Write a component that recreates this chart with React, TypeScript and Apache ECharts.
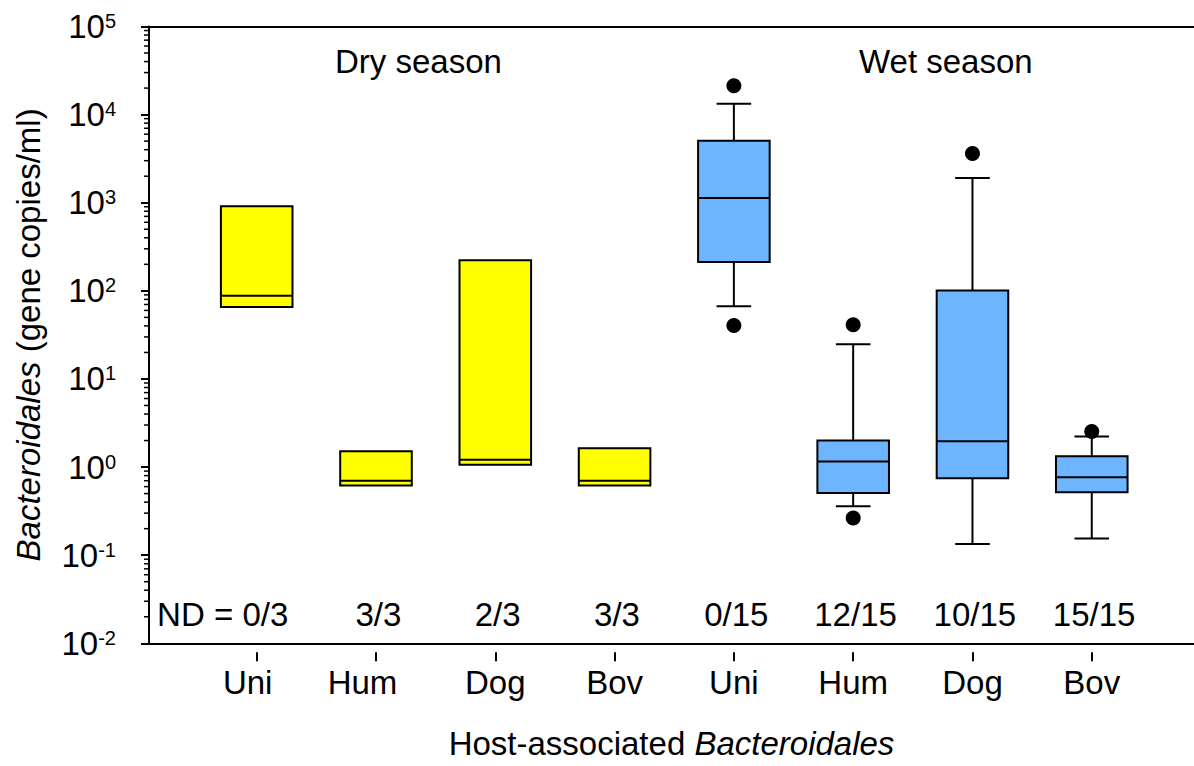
import React, { useEffect, useRef } from "react";
import * as echarts from "echarts";

// ---- data ----
const categories = ["Uni", "Hum", "Dog", "Bov", "Uni", "Hum", "Dog", "Bov"];
const positions = [1, 2, 3, 4, 5, 6, 7, 8];
const seasons = ["Dry", "Dry", "Dry", "Dry", "Wet", "Wet", "Wet", "Wet"];
const q1 = [65.5, 0.616, 1.06, 0.616, 212, 0.509, 0.746, 0.517];
const median = [88, 0.7, 1.21, 0.7, 1135, 1.155, 1.96, 0.766];
const q3 = [912, 1.51, 222, 1.64, 5040, 2.0, 101, 1.33];
const whiskerLow: (number | null)[] = [null, null, null, null, 67, 0.359, 0.134, 0.155];
const whiskerHigh: (number | null)[] = [null, null, null, null, 13270, 24.8, 1914, 2.22];
const outliers: [number, number][] = [
  [5, 21200],
  [5, 40.5],
  [6, 41.3],
  [6, 0.265],
  [7, 3620],
  [8, 2.53],
];
const ndLabels = ["ND = 0/3", "3/3", "2/3", "3/3", "0/15", "12/15", "10/15", "15/15"];
const decades = [-2, -1, 0, 1, 2, 3, 4];
const minorMultipliers = [2, 3, 4, 5, 6, 7, 8, 9];
const seasonTitles = ["Dry season", "Wet season"];

const FONT = '"Liberation Sans", Arial, Helvetica, sans-serif';
const seasonColor: Record<string, string> = { Dry: "#FFFF00", Wet: "#6DB6FF" };

export default function App() {
  const ref = useRef<HTMLDivElement>(null);

  useEffect(() => {
    if (!ref.current) return;
    const chart = echarts.init(ref.current, undefined, { renderer: "svg" });

    const xMin = 0.0972;
    const xMax = 8.857;
    const boxWidth = 0.6;
    const capWidth = 0.29;
    const ndLabelY = 0.0215;

    const minorTicks: number[] = [];
    decades.forEach((d) => minorMultipliers.forEach((m) => minorTicks.push(m * Math.pow(10, d))));

    const line = (x1: number, y1: number, x2: number, y2: number) => ({
      type: "line",
      shape: { x1, y1, x2, y2 },
      style: { stroke: "#000", lineWidth: 2 },
    });

    const option: any = {
      animation: false,
      backgroundColor: "#fff",
      textStyle: { fontFamily: FONT, color: "#000" },
      grid: { left: 149, right: 0, top: 26.5, bottom: 122.7, containLabel: false },
      xAxis: [
        {
          type: "value",
          position: "bottom",
          min: xMin,
          max: xMax,
          axisLine: { show: true, lineStyle: { color: "#000", width: 2 } },
          axisTick: { show: false },
          axisLabel: { show: false },
          splitLine: { show: false },
        },
        {
          type: "value",
          position: "top",
          min: xMin,
          max: xMax,
          axisLine: { show: true, onZero: false, lineStyle: { color: "#000", width: 2 } },
          axisTick: { show: false },
          axisLabel: { show: false },
          splitLine: { show: false },
        },
        {
          type: "value",
          position: "bottom",
          offset: 9,
          min: xMin,
          max: xMax,
          axisLine: { show: false },
          axisTick: {
            show: true,
            customValues: positions,
            length: 9,
            lineStyle: { color: "#000", width: 2 },
          },
          axisLabel: {
            show: true,
            customValues: positions,
            margin: 14,
            formatter: (v: number) => {
              const i = Math.round(v) - 1;
              const name = categories[i] ?? "";
              if (i === 0) return `{l9|${name}}`;
              if (i === 1) return `{l13|${name}}`;
              return `{n|${name}}`;
            },
            rich: {
              n: { fontSize: 33, fontFamily: FONT, color: "#000" },
              l9: { fontSize: 33, fontFamily: FONT, color: "#000", padding: [0, 18, 0, 0] },
              l13: { fontSize: 33, fontFamily: FONT, color: "#000", padding: [0, 27, 0, 0] },
            },
          },
          splitLine: { show: false },
          name: "Host-associated {i|Bacteroidales}",
          nameLocation: "middle",
          nameGap: 75,
          nameTextStyle: {
            fontSize: 33,
            fontFamily: FONT,
            color: "#000",
            rich: { i: { fontSize: 33, fontStyle: "italic", fontFamily: FONT, color: "#000" } },
          },
        },
      ],
      yAxis: {
        type: "log",
        logBase: 10,
        min: 0.01,
        max: 100000,
        splitNumber: 7,
        axisLine: { show: true, lineStyle: { color: "#000", width: 2 } },
        axisTick: { show: true, inside: false, length: 8, lineStyle: { color: "#000", width: 2 } },
        minorTick: { show: false },
        splitLine: { show: false },
        axisLabel: {
          margin: 33,
          formatter: (v: number) => {
            const e = Math.round(Math.log10(v));
            return `{b|10}{s|${e}}`;
          },
          rich: {
            b: { fontSize: 33, fontFamily: FONT, color: "#000" },
            s: { fontSize: 20, fontFamily: FONT, color: "#000", padding: [0, 0, 11, 0] },
          },
        },
        name: "{i|Bacteroidales} (gene copies/ml)",
        nameLocation: "middle",
        nameRotate: 90,
        nameGap: 104,
        nameTextStyle: {
          fontSize: 33,
          fontFamily: FONT,
          color: "#000",
          rich: { i: { fontSize: 33, fontStyle: "italic", fontFamily: FONT, color: "#000" } },
        },
      },
      graphic: [
        {
          type: "text",
          left: 419 - 84,
          top: 45,
          style: { text: seasonTitles[0], fontSize: 33, fontFamily: FONT, fill: "#000" },
        },
        {
          type: "text",
          left: 948 - 89,
          top: 45,
          style: { text: seasonTitles[1], fontSize: 33, fontFamily: FONT, fill: "#000" },
        },
      ],
      series: [
        {
          type: "custom",
          name: "minorTicks",
          xAxisIndex: 0,
          clip: false,
          silent: true,
          data: minorTicks.map((v) => [xMin, v]),
          renderItem: (params: any, api: any) => {
            const p = api.coord([api.value(0), api.value(1)]);
            return {
              type: "line",
              shape: { x1: p[0] - 5, y1: p[1], x2: p[0], y2: p[1] },
              style: { stroke: "#000", lineWidth: 1.5 },
            };
          },
        },
        {
          type: "custom",
          name: "boxes",
          xAxisIndex: 0,
          clip: false,
          data: positions.map((p, i) => [p, q1[i], q3[i]]),
          renderItem: (params: any, api: any) => {
            const i = params.dataIndex;
            const x = positions[i];
            const w = api.size([boxWidth, 1])[0];
            const cw = api.size([capWidth, 1])[0];
            const top = api.coord([x, q3[i]]);
            const cx = top[0];
            const yq3 = top[1];
            const yq1 = api.coord([x, q1[i]])[1];
            const ym = api.coord([x, median[i]])[1];
            const children: any[] = [];
            const hi = whiskerHigh[i];
            const lo = whiskerLow[i];
            if (hi != null) {
              const yh = api.coord([x, hi])[1];
              children.push(line(cx, yq3, cx, yh));
              children.push(line(cx - cw / 2, yh, cx + cw / 2, yh));
            }
            if (lo != null) {
              const yl = api.coord([x, lo])[1];
              children.push(line(cx, yq1, cx, yl));
              children.push(line(cx - cw / 2, yl, cx + cw / 2, yl));
            }
            children.push({
              type: "rect",
              shape: { x: cx - w / 2, y: yq3, width: w, height: yq1 - yq3 },
              style: { fill: seasonColor[seasons[i]], stroke: "#000", lineWidth: 2 },
            });
            children.push(line(cx - w / 2, ym, cx + w / 2, ym));
            return { type: "group", children };
          },
        },
        {
          type: "scatter",
          name: "outliers",
          xAxisIndex: 0,
          symbol: "circle",
          symbolSize: 15,
          itemStyle: { color: "#000", opacity: 1 },
          data: outliers,
        },
        {
          type: "scatter",
          name: "nd",
          xAxisIndex: 0,
          symbolSize: 1,
          itemStyle: { color: "#fff", opacity: 1 },
          silent: true,
          label: {
            show: true,
            position: "inside",
            fontSize: 33,
            fontFamily: FONT,
            color: "#000",
            opacity: 1,
            formatter: (p: any) => ndLabels[p.dataIndex],
          },
          data: positions.map((p, i) =>
            i === 0
              ? { value: [p, ndLabelY], label: { offset: [-34, 0] } }
              : { value: [p + 0.02, ndLabelY] }
          ),
        },
      ],
    };

    chart.setOption(option);
    return () => chart.dispose();
  }, []);

  return (
    <div
      ref={ref}
      style={{ position: "fixed", left: 0, top: 0, width: 1194, height: 766, background: "#fff" }}
    />
  );
}
